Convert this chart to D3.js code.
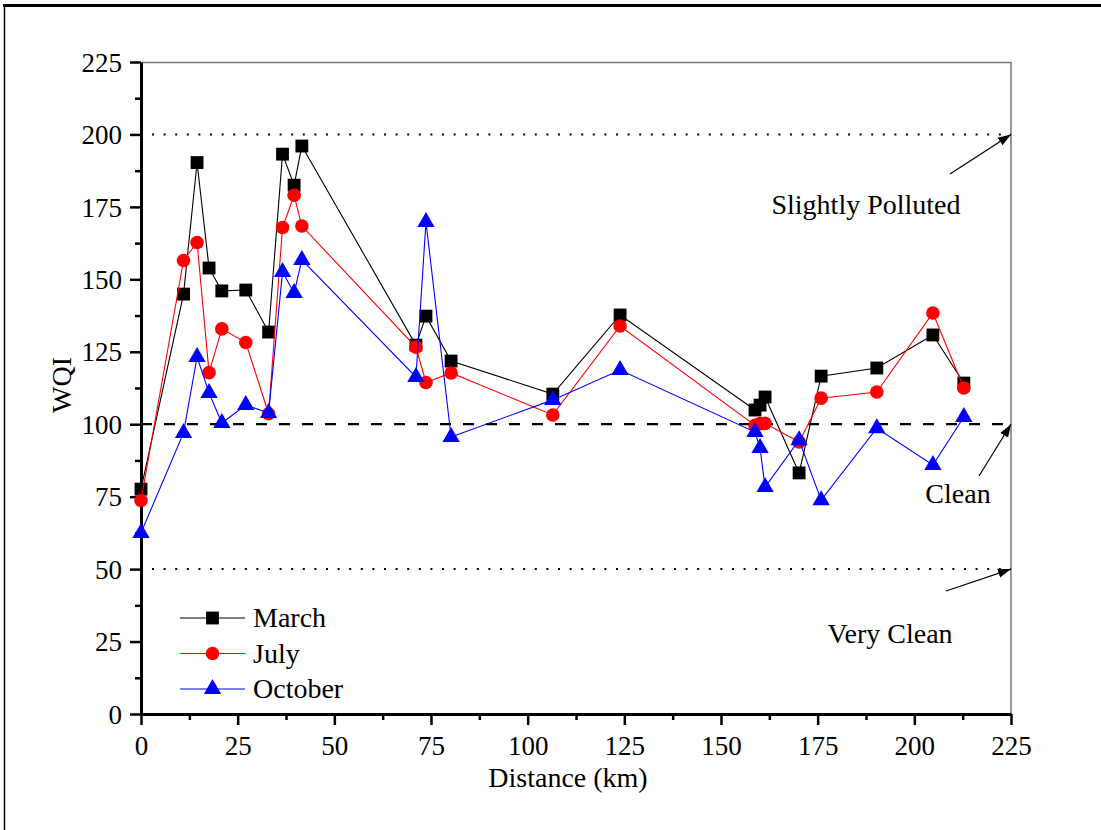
<!DOCTYPE html>
<html>
<head>
<meta charset="utf-8">
<script src="https://cdn.jsdelivr.net/npm/d3@7"></script>
<style>
  html, body { margin: 0; padding: 0; background: #fff; }
  svg { display: block; font-family: "Liberation Serif", "Times New Roman", serif; }
</style>
</head>
<body>
<div id="chart"></div>
<script>
// ── DATA ─────────────────────────────────────────────────────────────────────
const distance = [0, 11, 14.5, 17.6, 20.9, 27.1, 33, 36.6, 39.6, 41.6, 71.1, 73.7,
                  80.2, 106.5, 123.9, 158.8, 160.1, 161.4, 170.2, 175.9, 190.3, 204.8, 212.8];

const march   = [77.6, 144.9, 190.3, 153.9, 146, 146.3, 131.8, 193.2, 182.5, 196, 127.3, 137.3,
                 121.8, 110.4, 137.7, 104.9, 106.6, 109.4, 83.2, 116.6, 119.4, 130.8, 114.2];
const july    = [73.7, 156.5, 162.7, 117.8, 132.9, 128.2, 103.6, 167.9, 179, 168.4, 126.6, 114.4,
                 117.7, 103.2, 133.9, 99.6, 100.2, 100.3, 93.9, 109, 111.1, 138.4, 112.5];
const october = [62.5, 97, 123.2, 110.8, 100.4, 106.6, 103.9, 152.5, 145.3, 156.7, 116.3, 169.8,
                 95.6, 108.4, 118.7, 97.3, 91.8, 78.3, 94.5, 73.8, 98.6, 85.9, 102.5];

const seriesNames  = ['March', 'July', 'October'];
const xTicks       = [0, 25, 50, 75, 100, 125, 150, 175, 200, 225];
const yTicks       = [0, 25, 50, 75, 100, 125, 150, 175, 200, 225];
const classLevels  = [200, 100, 50];
const classLabels  = ['Slightly Polluted', 'Clean', 'Very Clean'];

// ── STYLE ────────────────────────────────────────────────────────────────────
const SERIES = [
  { name: 'March',   values: march,   color: '#000000', symbol: d3.symbolSquare,   size: 165 },
  { name: 'July',    values: july,    color: '#ff0000', symbol: d3.symbolCircle,   size: 145 },
  { name: 'October', values: october, color: '#0000ff', symbol: d3.symbolTriangle, size: 130 }
];

const TICK_FONT  = 27;
const LABEL_FONT = 28;

// ── DIMENSIONS ───────────────────────────────────────────────────────────────
const W = 1101, H = 830;
const margin = { top: 62, right: 90, bottom: 116, left: 141 };
const width  = W - margin.left - margin.right;
const height = H - margin.top - margin.bottom;

const svgRoot = d3.select('#chart').append('svg')
  .attr('width', W)
  .attr('height', H);

// outer page frame
svgRoot.append('line')
  .attr('x1', 3).attr('x2', W).attr('y1', 5.5).attr('y2', 5.5)
  .attr('stroke', '#000').attr('stroke-width', 3);
svgRoot.append('line')
  .attr('x1', 4.5).attr('x2', 4.5).attr('y1', 4).attr('y2', H)
  .attr('stroke', '#000').attr('stroke-width', 1.5);

const svg = svgRoot.append('g')
  .attr('transform', `translate(${margin.left},${margin.top})`);

// ── SCALES ───────────────────────────────────────────────────────────────────
const x = d3.scaleLinear().domain([0, 225]).range([0, width]);
const y = d3.scaleLinear().domain([0, 225]).range([height, 0]);

// ── FRAME (top/right) ────────────────────────────────────────────────────────
svg.append('path')
  .attr('d', `M0,0.5H${width}V${height}`)
  .attr('fill', 'none')
  .attr('stroke', '#777')
  .attr('stroke-width', 1.5);

// ── REFERENCE LINES ──────────────────────────────────────────────────────────
classLevels.forEach(v => {
  svg.append('line')
    .attr('x1', v === 100 ? 0 : 11).attr('x2', width)
    .attr('y1', y(v)).attr('y2', y(v))
    .attr('stroke', '#000')
    .attr('stroke-width', v === 100 ? 2.2 : 2)
    .attr('stroke-dasharray', v === 100 ? '11,12' : '2,9.6');
});

// ── AXES ─────────────────────────────────────────────────────────────────────
const minorX = d3.range(12.5, 225, 25);
const minorY = d3.range(12.5, 225, 25);

const xAxisG = svg.append('g').attr('transform', `translate(0,${height})`);
xAxisG.call(d3.axisBottom(x).tickValues(minorX).tickSize(6).tickFormat(''));
xAxisG.call(g => g.select('.domain').remove());
const xMajor = svg.append('g').attr('transform', `translate(0,${height})`)
  .call(d3.axisBottom(x).tickValues(xTicks).tickSize(11).tickSizeOuter(0).tickPadding(8));

const yMinorG = svg.append('g')
  .call(d3.axisLeft(y).tickValues(minorY).tickSize(6).tickFormat(''));
yMinorG.call(g => g.select('.domain').remove());
const yMajor = svg.append('g')
  .call(d3.axisLeft(y).tickValues(yTicks).tickSize(11).tickSizeOuter(0).tickPadding(8));

svg.selectAll('.tick line').attr('stroke', '#000').attr('stroke-width', 2.5);
[xMajor, yMajor].forEach(g => {
  g.select('.domain').attr('stroke', '#000').attr('stroke-width', 3);
  g.selectAll('text')
    .attr('font-family', '"Liberation Serif", "Times New Roman", serif')
    .attr('font-size', TICK_FONT)
    .attr('fill', '#000');
});
yMajor.selectAll('text').attr('dy', '0.34em');
xMajor.selectAll('text').attr('dy', '0.8em');

svg.append('text')
  .attr('x', width / 2 - 8)
  .attr('y', height + 73)
  .attr('text-anchor', 'middle')
  .attr('font-size', LABEL_FONT)
  .text('Distance (km)');

svg.append('text')
  .attr('transform', 'rotate(-90)')
  .attr('x', -(y(112.5)) + 3)
  .attr('y', -70)
  .attr('text-anchor', 'middle')
  .attr('font-size', LABEL_FONT)
  .text('WQI');

// ── CLASS LABELS + ARROWS ────────────────────────────────────────────────────
svgRoot.append('defs').append('marker')
  .attr('id', 'arrow')
  .attr('viewBox', '0 0 10 10')
  .attr('refX', 10).attr('refY', 5)
  .attr('markerWidth', 13).attr('markerHeight', 13)
  .attr('markerUnits', 'userSpaceOnUse')
  .attr('orient', 'auto')
  .append('path').attr('d', 'M0,1.5L10,5L0,8.5Z').attr('fill', '#000');

const labelPos = [
  { tx: 725, ty: 152, ax: 809, ay: 112 },
  { tx: 817, ty: 441, ax: 838, ay: 414 },
  { tx: 749, ty: 581, ax: 805, ay: 529 }
];

classLabels.forEach((lab, i) => {
  const p = labelPos[i];
  svg.append('text')
    .attr('x', p.tx)
    .attr('y', p.ty)
    .attr('text-anchor', 'middle')
    .attr('font-size', LABEL_FONT)
    .text(lab);
  svg.append('line')
    .attr('x1', p.ax).attr('y1', p.ay)
    .attr('x2', width).attr('y2', y(classLevels[i]))
    .attr('stroke', '#000')
    .attr('stroke-width', 1.2)
    .attr('marker-end', 'url(#arrow)');
});

// ── SERIES ───────────────────────────────────────────────────────────────────
const line = d3.line()
  .x(d => x(d[0]))
  .y(d => y(d[1]));

SERIES.forEach(s => {
  const pts = distance.map((dv, i) => [dv, s.values[i]]);
  const g = svg.append('g').attr('class', 'series');
  g.append('path')
    .attr('d', line(pts))
    .attr('fill', 'none')
    .attr('stroke', s.color)
    .attr('stroke-width', 1.1);
  g.selectAll('path.mark')
    .data(pts)
    .join('path')
      .attr('class', 'mark')
      .attr('transform', d => `translate(${x(d[0])},${y(d[1])})`)
      .attr('d', d3.symbol().type(s.symbol).size(s.size))
      .attr('fill', s.color);
});

// ── LEGEND ───────────────────────────────────────────────────────────────────
const legend = svg.append('g').attr('transform', 'translate(39,556)');
SERIES.forEach((s, i) => {
  const row = legend.append('g').attr('transform', `translate(0,${i * 35.5})`);
  row.append('line')
    .attr('x1', 0).attr('x2', 65)
    .attr('stroke', s.color)
    .attr('stroke-width', 1.1);
  row.append('path')
    .attr('transform', 'translate(32.5,0)')
    .attr('d', d3.symbol().type(s.symbol).size(s.size))
    .attr('fill', s.color);
  row.append('text')
    .attr('x', 73)
    .attr('dy', '0.33em')
    .attr('font-size', LABEL_FONT)
    .text(seriesNames[i]);
});
</script>
</body>
</html>
